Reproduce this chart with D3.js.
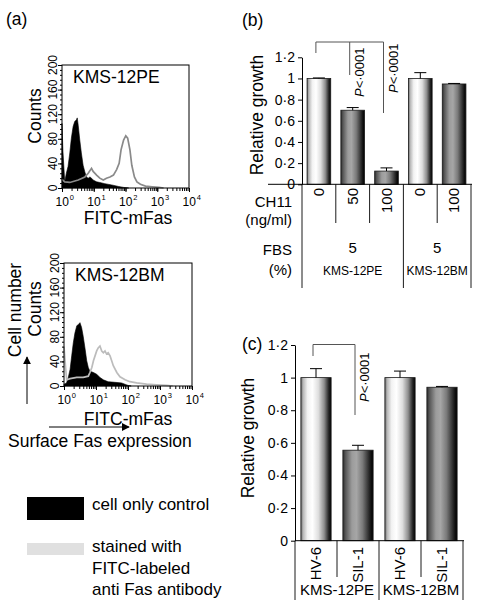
<!DOCTYPE html>
<html><head><meta charset="utf-8">
<script src="https://cdn.jsdelivr.net/npm/d3@7"></script>
<style>
body{margin:0;background:#fff}
svg{display:block}
text{font-family:"Liberation Sans",Arial,Helvetica,sans-serif;fill:#000}
</style>
</head><body>
<svg id="fig" width="477" height="612"></svg>
<script>
// ---------------- DATA ----------------
// (a) flow cytometry histograms: [FITC intensity, counts]
const histCountTicks = [0, 40, 80, 120, 160, 200];
const histDecades = [1, 10, 100, 1000, 10000];
const peControl = [[1.00,105],[1.07,60],[1.22,10],[1.37,24],[1.55,35],[1.76,57],[1.97,81],[2.24,100],[2.51,108],[2.85,111],[3.02,114],[3.24,102],[3.63,78],[4.07,57],[4.62,37],[5.25,26],[5.89,18],[6.68,16],[7.59,18],[8.51,16],[9.55,13],[12.3,10],[15.5,9],[22.4,7],[36.7,5],[60.3,2.5],[87.1,1],[126,0]];
const peStained = [[1.00,14],[1.22,10],[1.76,9],[3.24,13],[5.25,18],[6.68,24],[8.51,32],[9.55,27],[12.3,21],[15.5,16],[20.0,13],[25.1,16],[32.4,18],[41.7,21],[52.5,30],[63.1,40],[72.4,62],[87.1,78],[102,85],[117,81],[138,62],[158,37],[191,18],[229,10],[295,6],[427,3],[692,2],[1122,1],[1585,0]];
const bmControl = [[1.00,3],[1.20,5],[1.36,14],[1.55,27],[1.74,49],[1.95,70],[2.19,86],[2.51,98],[2.82,100],[3.16,103],[3.55,95],[3.98,81],[4.57,60],[5.13,41],[5.75,30],[6.46,24],[8.32,22],[10.5,19],[13.3,14],[17.0,10],[24.0,7],[38.9,6],[63.1,5],[100,1],[126,0]];
const bmStained = [[1.00,64],[1.12,30],[1.21,10],[1.55,12],[2.51,14],[3.98,14],[5.75,16],[6.46,22],[7.41,30],[8.32,41],[9.33,49],[10.5,57],[11.7,62],[13.3,65],[15.1,57],[17.0,54],[19.1,57],[21.4,52],[24.0,54],[27.5,49],[30.9,41],[34.7,33],[44.7,22],[56.2,15],[81.3,10],[115,7],[186,5],[380,3],[794,2],[1622,1],[2512,0]];
const legendLabels = [["cell only control"], ["stained with", "FITC-labeled", "anti Fas antibody"]];

// (b) CH11 treatment
const growthTicks = [0, 0.2, 0.4, 0.6, 0.8, 1.0, 1.2];
const bCH11 = ["0", "50", "100", "0", "100"];
const bValues = [1.00, 0.70, 0.125, 1.00, 0.948];
const bErrors = [0.005, 0.025, 0.03, 0.055, 0.005];
const bShades = ["light", "dark", "dark", "light", "dark"];
const bGroups = ["KMS-12PE", "KMS-12BM"];
const bGroupSizes = [3, 2];
const bFBS = ["5", "5"];

// (c) HV-6 / SIL-1
const cLabels = ["HV-6", "SIL-1", "HV-6", "SIL-1"];
const cValues = [1.00, 0.555, 1.00, 0.941];
const cErrors = [0.055, 0.03, 0.04, 0.005];
const cShades = ["light", "dark", "light", "dark"];
const cGroups = ["KMS-12PE", "KMS-12BM"];
const cGroupSizes = [2, 2];
const pText = "<·0001";

// ---------------- DRAW ----------------
const svg = d3.select("#fig");
svg.append("rect").attr("width", 477).attr("height", 612).attr("fill", "#fff");
const defs = svg.append("defs");
function grad(id, stops) {
  const g = defs.append("linearGradient").attr("id", id).attr("x1", "0").attr("x2", "1").attr("y1", "0").attr("y2", "0");
  stops.forEach(s => g.append("stop").attr("offset", s[0]).attr("stop-color", s[1]));
}
grad("light", [[0,"#5e5e5e"],[0.07,"#b5b5b5"],[0.22,"#f2f2f2"],[0.38,"#ffffff"],[0.58,"#dedede"],[0.77,"#8e8e8e"],[0.91,"#2c2c2c"],[1,"#000"]]);
grad("dark", [[0,"#2a2a2a"],[0.08,"#545454"],[0.3,"#9c9c9c"],[0.45,"#a6a6a6"],[0.65,"#7a7a7a"],[0.82,"#3a3a3a"],[0.93,"#111"],[1,"#000"]]);

const fmtGrowth = d => d === 0 ? "0" : d === 1 ? "1" : d3.format(".1f")(d).replace(".", "·");
const FS = 17.5;

// ---- panel (a)
svg.append("text").attr("x", 6).attr("y", 25).attr("font-size", FS).text("(a)");

function drawHist(box, control, stained, stainedColor, title, labelDy) {
  const g = svg.append("g");
  const x = d3.scaleLog().domain([1, 1e4]).range([box.x0, box.x1]);
  const y = d3.scaleLinear().domain([0, 200]).range([box.y1, box.y0]);
  g.append("path").datum(control)
    .attr("d", d3.area().x(d => x(d[0])).y0(y(0)).y1(d => y(d[1])))
    .attr("fill", "#000").attr("stroke", "#000").attr("stroke-width", 0.6);
  g.append("path").datum(stained)
    .attr("d", d3.line().x(d => x(d[0])).y(d => y(d[1])))
    .attr("fill", "none").attr("stroke", stainedColor).attr("stroke-width", 1.7);
  g.append("rect").attr("x", box.x0).attr("y", box.y0)
    .attr("width", box.x1 - box.x0).attr("height", box.y1 - box.y0)
    .attr("fill", "none").attr("stroke", "#000").attr("stroke-width", 1);
  // y ticks
  const minorY = d3.range(0, 201, 8);
  g.append("g").attr("transform", `translate(${box.x0},0)`)
    .call(d3.axisLeft(y).tickValues(minorY).tickSize(2).tickFormat("").tickSizeOuter(0))
    .call(a => a.select(".domain").remove());
  g.append("g").attr("transform", `translate(${box.x0},0)`)
    .call(d3.axisLeft(y).tickValues(histCountTicks).tickSize(4).tickFormat("").tickSizeOuter(0))
    .call(a => a.select(".domain").remove());
  histCountTicks.forEach(t => {
    g.append("text").attr("transform", `translate(${box.x0 - 5},${y(t)}) rotate(-90)`)
      .attr("text-anchor", "middle").attr("font-size", 12).text(t);
  });
  // x ticks (log)
  const minorX = [];
  for (let k = 0; k < 4; k++) for (let m = 1; m < 10; m++) minorX.push(m * Math.pow(10, k));
  minorX.push(1e4);
  g.append("g").attr("transform", `translate(0,${box.y1})`)
    .call(d3.axisBottom(x).tickValues(minorX).tickSize(3).tickFormat("").tickSizeOuter(0))
    .call(a => a.select(".domain").remove());
  g.append("g").attr("transform", `translate(0,${box.y1})`)
    .call(d3.axisBottom(x).tickValues(histDecades).tickSize(4).tickFormat("").tickSizeOuter(0))
    .call(a => a.select(".domain").remove());
  histDecades.forEach((v, i) => {
    const t = g.append("text").attr("x", x(v) - 6.5).attr("y", box.y1 + 18).attr("font-size", 12);
    t.append("tspan").text("10");
    t.append("tspan").attr("dy", -6).attr("dx", 1).attr("font-size", 7.5).text(Math.round(Math.log10(v)));
  });
  g.selectAll(".tick line").attr("stroke", "#000");
  g.append("text").attr("x", box.x0 + 11).attr("y", box.y0 + 18).attr("font-size", FS).text(title);
  g.append("text").attr("x", 128).attr("y", box.y1 + labelDy).attr("text-anchor", "middle").attr("font-size", FS).text("FITC-mFas");
  return g;
}
drawHist({x0: 62, x1: 189, y0: 65, y1: 188}, peControl, peStained, "#8a8a8a", "KMS-12PE", 36);
drawHist({x0: 64, x1: 192, y0: 263, y1: 386}, bmControl, bmStained, "#bcbcbc", "KMS-12BM", 39);

svg.append("text").attr("transform", "translate(40.5,116) rotate(-90)").attr("text-anchor", "middle").attr("font-size", FS).text("Counts");
svg.append("text").attr("transform", "translate(40.5,309) rotate(-90)").attr("text-anchor", "middle").attr("font-size", FS).text("Counts");
svg.append("text").attr("transform", "translate(20.5,310) rotate(-90)").attr("text-anchor", "middle").attr("font-size", FS).text("Cell number");
svg.append("text").attr("x", 8).attr("y", 447).attr("font-size", FS).text("Surface Fas expression");

// arrows
defs.append("marker").attr("id", "ah").attr("viewBox", "0 0 10 10").attr("refX", 9).attr("refY", 5)
  .attr("markerWidth", 8).attr("markerHeight", 8).attr("markerUnits", "userSpaceOnUse").attr("orient", "auto")
  .append("path").attr("d", "M0,0 L10,5 L0,10 Z").attr("fill", "#000");
svg.append("line").attr("x1", 49).attr("y1", 427).attr("x2", 129).attr("y2", 427)
  .attr("stroke", "#000").attr("stroke-width", 1).attr("marker-end", "url(#ah)");
svg.append("line").attr("x1", 27).attr("y1", 404).attr("x2", 27).attr("y2", 357)
  .attr("stroke", "#000").attr("stroke-width", 1).attr("marker-end", "url(#ah)");

// legend
svg.append("rect").attr("x", 27).attr("y", 497).attr("width", 57).attr("height", 23).attr("fill", "#000");
svg.append("rect").attr("x", 27).attr("y", 543).attr("width", 57).attr("height", 12).attr("fill", "#e0e0e0");
legendLabels[0].forEach((s, i) => svg.append("text").attr("x", 92).attr("y", 510 + i * 21.5).attr("font-size", 17).text(s));
legendLabels[1].forEach((s, i) => svg.append("text").attr("x", 92).attr("y", 552 + i * 21.5).attr("font-size", 17).text(s));

// ---- bar helper
function drawBars(cfg) {
  const g = svg.append("g");
  const n = cfg.values.length;
  const x = d3.scaleBand().domain(d3.range(n)).range([cfg.x0, cfg.x1]).padding(0);
  const y = d3.scaleLinear().domain([0, 1.2]).range([cfg.yb, cfg.yt]);
  const bw = x.bandwidth() * cfg.barFrac;
  const cx = i => x(i) + x.bandwidth() / 2;
  // axis
  g.append("g").attr("transform", `translate(${cfg.x0},0)`)
    .call(d3.axisLeft(y).tickValues(growthTicks).tickSize(4).tickPadding(3).tickSizeOuter(0).tickFormat(fmtGrowth))
    .call(a => a.selectAll("text").attr("font-size", 14).attr("font-family", '"Liberation Sans",Arial,sans-serif'))
    .call(a => a.select(".domain").attr("stroke", "#000"));
  // bars
  g.selectAll("rect.bar").data(cfg.values).join("rect").attr("class", "bar")
    .attr("x", (d, i) => cx(i) - bw / 2).attr("width", bw)
    .attr("y", d => y(d)).attr("height", d => y(0) - y(d))
    .attr("fill", (d, i) => `url(#${cfg.shades[i]})`).attr("stroke", "#1a1a1a").attr("stroke-width", 0.8);
  // error bars
  cfg.values.forEach((v, i) => {
    g.append("line").attr("x1", cx(i)).attr("x2", cx(i)).attr("y1", y(v)).attr("y2", y(v + cfg.errors[i])).attr("stroke", "#000");
    g.append("line").attr("x1", cx(i) - 6).attr("x2", cx(i) + 6).attr("y1", y(v + cfg.errors[i])).attr("y2", y(v + cfg.errors[i])).attr("stroke", "#000");
  });
  // baseline
  g.append("line").attr("x1", cfg.baseX0).attr("x2", cfg.x1 + 1).attr("y1", y(0)).attr("y2", y(0)).attr("stroke", "#000");
  // dividers
  let idx = 0; const bounds = [0];
  cfg.groupSizes.forEach(s => { idx += s; bounds.push(idx); });
  for (let i = 0; i <= n; i++) {
    const xx = i < n ? x(i) : cfg.x1;
    const long = bounds.includes(i);
    g.append("line").attr("x1", xx).attr("x2", xx).attr("y1", y(0)).attr("y2", long ? cfg.longEnd : cfg.shortEnd).attr("stroke", "#000").attr("stroke-width", 0.9);
  }
  // rotated column labels
  cfg.colLabels.forEach((s, i) => {
    g.append("text").attr("transform", `translate(${cx(i) + 5},${cfg.colLabelTop}) rotate(-90)`)
      .attr("text-anchor", "end").attr("font-size", cfg.colFont).text(s);
  });
  // group labels
  cfg.groups.forEach((s, k) => {
    const a = x(bounds[k]); const b = bounds[k + 1] < n ? x(bounds[k + 1]) : cfg.x1;
    g.append("text").attr("x", (a + b) / 2).attr("y", cfg.groupY).attr("text-anchor", "middle").attr("font-size", cfg.groupFont).text(s);
    if (cfg.fbs) g.append("text").attr("x", (a + b) / 2).attr("y", 253).attr("text-anchor", "middle").attr("font-size", 15).text(cfg.fbs[k]);
  });
  // bracket
  const br = cfg.bracket;
  const pts = br.drops.map(d => [cx(d[0]) + br.dx, d[1]]);
  const xl = d3.min(pts, p => p[0]), xr = d3.max(pts, p => p[0]);
  g.append("line").attr("x1", xl).attr("x2", xr).attr("y1", br.top).attr("y2", br.top).attr("stroke", "#555");
  pts.forEach(p => g.append("line").attr("x1", p[0]).attr("x2", p[0]).attr("y1", br.top).attr("y2", p[1]).attr("stroke", "#555"));
  br.labels.forEach(l => {
    const t = g.append("text").attr("transform", `translate(${cx(l[0]) + br.dx + 14},${l[1]}) rotate(-90)`).attr("font-size", 13);
    t.append("tspan").attr("font-style", "italic").text("P");
    t.append("tspan").text(pText);
  });
  return {x, y};
}

// ---- panel (b)
svg.append("text").attr("x", 242).attr("y", 26).attr("font-size", FS).text("(b)");
drawBars({
  values: bValues, errors: bErrors, shades: bShades, colLabels: bCH11, groups: bGroups, groupSizes: bGroupSizes, fbs: bFBS,
  x0: 302, x1: 471, yb: 184.3, yt: 57.3, barFrac: 0.7, baseX0: 268,
  longEnd: 288, shortEnd: 223, colLabelTop: 188, colFont: 15, groupY: 275, groupFont: 12,
  bracket: {top: 42, dx: -3, drops: [[0, 53], [1, 75], [2, 113]], labels: [[1, 97], [2, 93]]}
});
svg.append("text").attr("transform", "translate(263,115) rotate(-90)").attr("text-anchor", "middle").attr("font-size", FS).text("Relative growth");
[["CH11", 207], ["(ng/ml)", 225], ["FBS", 255], ["(%)", 275]].forEach(r =>
  svg.append("text").attr("x", 292).attr("y", r[1]).attr("text-anchor", "end").attr("font-size", 15).text(r[0]));

// ---- panel (c)
svg.append("text").attr("x", 242).attr("y", 350).attr("font-size", FS).text("(c)");
drawBars({
  values: cValues, errors: cErrors, shades: cShades, colLabels: cLabels, groups: cGroups, groupSizes: cGroupSizes, fbs: null,
  x0: 295, x1: 463, yb: 540.7, yt: 345, barFrac: 0.72, baseX0: 295,
  longEnd: 600, shortEnd: 577, colLabelTop: 547, colFont: 15, groupY: 595, groupFont: 15,
  bracket: {top: 344.5, dx: -3, drops: [[0, 356], [1, 415]], labels: [[1, 402]]}
});
svg.append("text").attr("transform", "translate(254,438) rotate(-90)").attr("text-anchor", "middle").attr("font-size", FS).text("Relative growth");
</script>
</body></html>
